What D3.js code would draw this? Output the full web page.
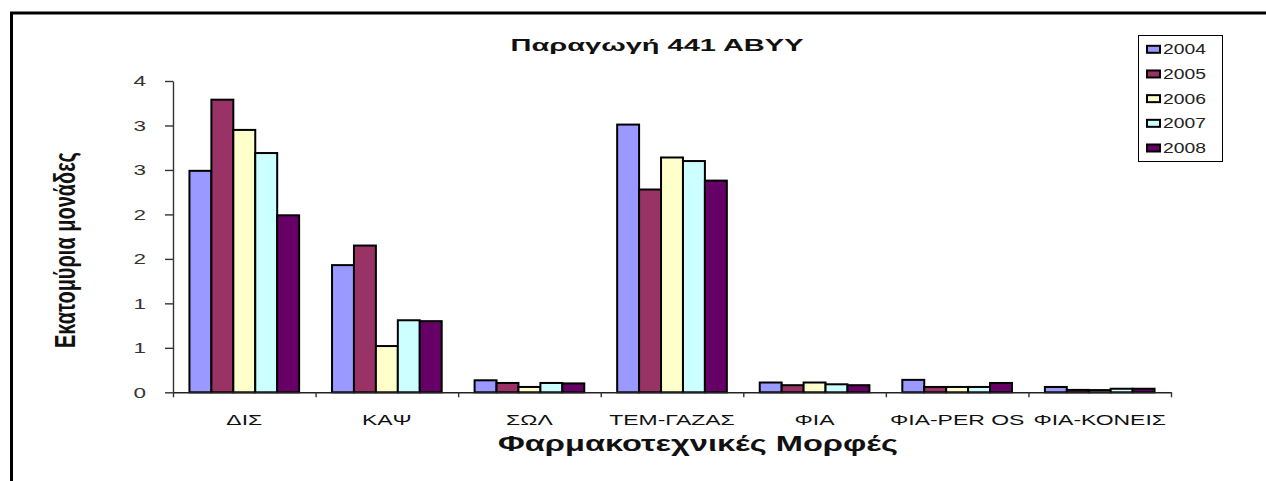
<!DOCTYPE html>
<html>
<head>
<meta charset="utf-8">
<script src="https://cdn.jsdelivr.net/npm/d3@7"></script>
<style>
  html, body { margin: 0; padding: 0; background: #fff; }
  svg { display: block; }
  text { font-family: "Liberation Sans", Arial, sans-serif; }
</style>
</head>
<body>
<svg id="chart" width="1266" height="481"></svg>
<script>
// Production per pharmaceutical form, millions of units
const categories = ["ΔΙΣ", "ΚΑΨ", "ΣΩΛ", "ΤΕΜ-ΓΑΖΑΣ", "ΦΙΑ", "ΦΙΑ-PER OS", "ΦΙΑ-ΚΟΝΕΙΣ"];
const years = ["2004", "2005", "2006", "2007", "2008"];
const v2004 = [2.49, 1.43, 0.135, 3.01, 0.11, 0.14, 0.06];
const v2005 = [3.29, 1.65, 0.105, 2.28, 0.08, 0.06, 0.027];
const v2006 = [2.95, 0.52, 0.06, 2.64, 0.11, 0.06, 0.025];
const v2007 = [2.69, 0.81, 0.105, 2.60, 0.09, 0.06, 0.04];
const v2008 = [1.99, 0.80, 0.10, 2.38, 0.08, 0.105, 0.04];
const yTicks = [0, 0.5, 1, 1.5, 2, 2.5, 3, 3.5];
const colors = ["#9999FF", "#993366", "#FFFFCC", "#CCFFFF", "#660066"];

const series = [v2004, v2005, v2006, v2007, v2008];
const rows = categories.map((c, i) => ({
  cat: c,
  values: years.map((y, j) => ({ year: y, value: series[j][i] }))
}));

const svg = d3.select("#chart");

// outer frame (top and left edges)
svg.append("path")
  .attr("d", "M11.5,481 V13 H1266")
  .attr("fill", "none")
  .attr("stroke", "#000")
  .attr("stroke-width", 3);

const plot = { left: 173, right: 1171, top: 81, bottom: 392.3 };

const x0 = d3.scaleBand().domain(categories).range([plot.left, plot.right]).paddingInner(0).paddingOuter(0);
const x1 = d3.scaleBand().domain(years).range([0, x0.bandwidth()]).paddingInner(0).paddingOuter(0.75);
const xEdges = d3.scaleLinear().domain([0, categories.length]).range([plot.left, plot.right]);
const y = d3.scaleLinear().domain([0, 3.5]).range([plot.bottom, plot.top]);

// stretch text horizontally by a factor of its natural width
function stretch(sel, factor) {
  sel.each(function () {
    const w = this.getComputedTextLength();
    d3.select(this).attr("textLength", w * factor).attr("lengthAdjust", "spacingAndGlyphs");
  });
}
function fitTo(sel, width) {
  sel.attr("textLength", width).attr("lengthAdjust", "spacingAndGlyphs");
}

// bars
const groups = svg.append("g").selectAll("g")
  .data(rows).join("g")
  .attr("transform", d => `translate(${x0(d.cat)},0)`);

groups.selectAll("rect")
  .data(d => d.values).join("rect")
  .attr("x", d => x1(d.year))
  .attr("y", d => y(d.value))
  .attr("width", x1.bandwidth())
  .attr("height", d => y(0) - y(d.value))
  .attr("fill", (d, i) => colors[i])
  .attr("stroke", "#000")
  .attr("stroke-width", 2);

// y axis
const yAxis = svg.append("g")
  .attr("transform", `translate(${plot.left},0)`)
  .call(d3.axisLeft(y).tickValues(yTicks).tickFormat(d => Math.round(d)).tickSize(8).tickSizeOuter(0).tickPadding(19));
yAxis.select(".domain").attr("stroke", "#333").attr("stroke-width", 1.4);
yAxis.selectAll(".tick line").attr("stroke", "#333").attr("stroke-width", 1.4);
yAxis.selectAll(".tick text")
  .attr("font-size", 15)
  .attr("fill", "#333")
  .style("font-family", "'Liberation Sans', Arial, sans-serif")
  .call(stretch, 1.5);

// x axis: ticks on category boundaries
const xAxis = svg.append("g")
  .attr("transform", `translate(0,${plot.bottom})`)
  .call(d3.axisBottom(xEdges).tickValues(d3.range(categories.length + 1)).tickFormat("").tickSize(5).tickSizeOuter(0));
xAxis.select(".domain").attr("stroke", "#222").attr("stroke-width", 1.4);
xAxis.selectAll(".tick line").attr("stroke", "#333").attr("stroke-width", 1.4);

svg.append("g").selectAll("text")
  .data(categories).join("text")
  .attr("x", d => x0(d) + x0.bandwidth() / 2)
  .attr("y", 424.5)
  .attr("text-anchor", "middle")
  .attr("font-size", 15)
  .attr("fill", "#111")
  .text(d => d)
  .call(stretch, 1.53);

// titles
svg.append("text")
  .attr("x", 657).attr("y", 51)
  .attr("text-anchor", "middle")
  .attr("font-size", 17).attr("font-weight", "bold").attr("fill", "#111")
  .text("Παραγωγή 441 ΑΒΥΥ")
  .call(fitTo, 293);

svg.append("text")
  .attr("x", 698).attr("y", 451)
  .attr("text-anchor", "middle")
  .attr("font-size", 22).attr("font-weight", "bold").attr("fill", "#111")
  .text("Φαρμακοτεχνικές  Μορφές")
  .call(fitTo, 400);

svg.append("text")
  .attr("transform", "translate(75,250) rotate(-90)")
  .attr("text-anchor", "middle")
  .attr("font-size", 29).attr("font-weight", "bold").attr("fill", "#111")
  .text("Εκατομύρια μονάδες")
  .call(fitTo, 196);

// legend
const legend = svg.append("g");
legend.append("rect")
  .attr("x", 1138.5).attr("y", 35.5).attr("width", 84).attr("height", 126)
  .attr("fill", "#fff").attr("stroke", "#000").attr("stroke-width", 1);

const ly = d3.scalePoint().domain(years).range([49.3, 148]);
const items = legend.selectAll("g.item").data(years).join("g")
  .attr("class", "item")
  .attr("transform", d => `translate(0,${ly(d)})`);
items.append("rect")
  .attr("x", 1147).attr("y", -3.5).attr("width", 13).attr("height", 7)
  .attr("fill", (d, i) => colors[i]).attr("stroke", "#000").attr("stroke-width", 2);
items.append("text")
  .attr("x", 1163).attr("y", 5)
  .attr("font-size", 14).attr("fill", "#222")
  .text(d => d)
  .call(fitTo, 43);
</script>
</body>
</html>
